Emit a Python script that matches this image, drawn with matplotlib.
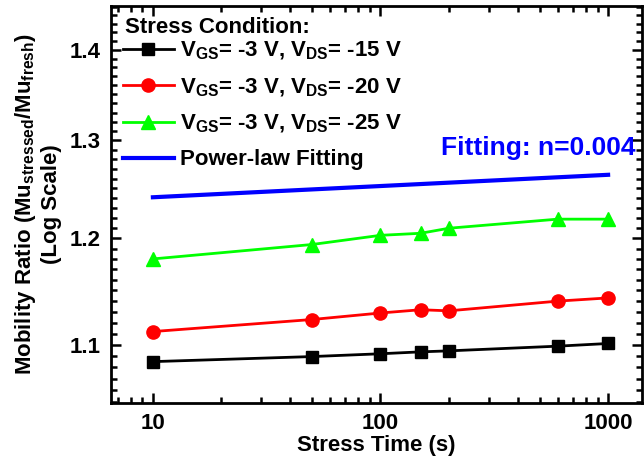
#!/usr/bin/env python3

import numpy as np
import matplotlib

matplotlib.use("Agg")
import matplotlib.pyplot as plt
from matplotlib.ticker import FixedLocator, NullFormatter, LogLocator


STRESS_TIME = [10, 50, 100, 150, 200, 600, 1000]
RATIO_VDS15 = [1.085, 1.0895, 1.092, 1.0937, 1.0946, 1.0988, 1.1012]
RATIO_VDS20 = [1.112, 1.123, 1.129, 1.132, 1.131, 1.140, 1.143]
RATIO_VDS25 = [1.180, 1.194, 1.203, 1.205, 1.210, 1.219, 1.219]

FIT_TIME = [10, 1000]
FIT_RATIO = [1.241, 1.264]

Y_TICKS = [1.1, 1.2, 1.3, 1.4]
X_TICKS = [10, 100, 1000]

LABELS = [
    "V$_{GS}$= -3 V, V$_{DS}$= -15 V",
    "V$_{GS}$= -3 V, V$_{DS}$= -20 V",
    "V$_{GS}$= -3 V, V$_{DS}$= -25 V",
    "Power-law Fitting",
]

plt.rcParams["font.family"] = ["Liberation Sans", "DejaVu Sans"]
plt.rcParams["font.weight"] = "bold"
plt.rcParams["mathtext.default"] = "regular"
plt.rcParams["axes.linewidth"] = 2.0


def style_axes(ax):
    ax.set_xscale("log")
    ax.set_yscale("log")
    ax.set_xlim(6.53, 1410)
    ax.set_ylim(1.049, 1.451)

    ax.set_xticks(X_TICKS)
    ax.set_xticklabels([str(t) for t in X_TICKS])
    ax.xaxis.set_minor_locator(LogLocator(base=10, subs=np.arange(2, 10)))
    ax.xaxis.set_minor_formatter(NullFormatter())

    ax.set_yticks(Y_TICKS)
    ax.set_yticklabels([f"{t:.1f}" for t in Y_TICKS])
    minor = [m / 100 for m in range(105, 146) if m % 10 != 0]
    ax.yaxis.set_minor_locator(FixedLocator(minor))
    ax.yaxis.set_minor_formatter(NullFormatter())

    ax.tick_params(which="both", direction="in", top=True, right=True,
                   labelsize=16, width=1.8)
    ax.tick_params(which="major", length=7, pad=7)
    ax.tick_params(which="minor", length=4)


def main():
    fig = plt.figure(figsize=(6.44, 4.61), dpi=100)
    ax = fig.add_axes([0.172, 0.126, 0.825, 0.861])

    ax.plot(STRESS_TIME, RATIO_VDS15, color="black", marker="s",
            markersize=8, lw=2.0, label=LABELS[0])
    ax.plot(STRESS_TIME, RATIO_VDS20, color="#ff0000", marker="o",
            markersize=9.5, lw=2.0, label=LABELS[1])
    ax.plot(STRESS_TIME, RATIO_VDS25, color="#00ff00", marker="^",
            markersize=10, lw=2.0, label=LABELS[2])
    ax.plot(FIT_TIME, FIT_RATIO, color="#0000ff", lw=3.0, label=LABELS[3])

    style_axes(ax)

    ax.set_xlabel("Stress Time (s)", fontsize=16, fontweight="bold", labelpad=1)
    ax.set_ylabel("Mobility Ratio (Mu$_{stressed}$/Mu$_{fresh}$)\n(Log Scale)",
                  fontsize=16, fontweight="bold", labelpad=6,
                  multialignment="center", linespacing=1.2)

    ax.text(0.026, 0.947, "Stress Condition:", transform=ax.transAxes,
            ha="left", va="center", fontsize=16, fontweight="bold")

    ax.legend(loc="upper left", bbox_to_anchor=(0.012, 0.928), frameon=False,
              fontsize=16, handlelength=2.3, handletextpad=0.3,
              labelspacing=0.64, borderaxespad=0.0, borderpad=0.25)

    ax.text(0.988, 0.642, "Fitting: n=0.004", transform=ax.transAxes,
            ha="right", va="center", color="#0000ff", fontsize=19,
            fontweight="bold")

    fig.savefig("out.png", dpi=100)
    plt.close(fig)


if __name__ == "__main__":
    main()
